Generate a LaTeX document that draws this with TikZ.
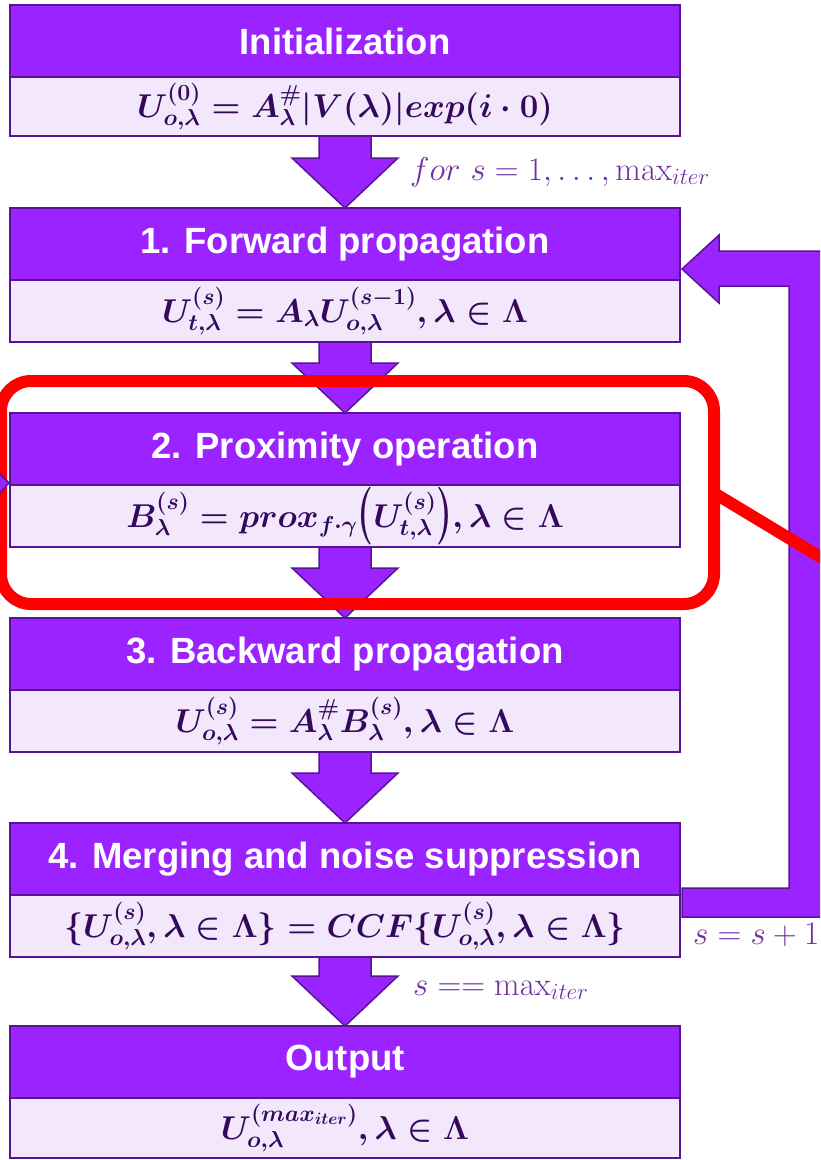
\RequirePackage{fix-cm}
\documentclass[tikz,border=0pt]{standalone}
\usepackage{amsmath,bm}
\usepackage[no-math]{fontspec}
\newfontfamily\hfont{Liberation Sans}
\usetikzlibrary{calc}
\definecolor{hpurp}{RGB}{155,35,255}
\definecolor{bandc}{RGB}{243,231,252}
\definecolor{bord}{RGB}{88,20,150}
\definecolor{fml}{RGB}{52,8,92}
\definecolor{lblc}{RGB}{112,48,160}
\newcommand\tallparen[1]{\mathopen{\raisebox{-3pt}{\scalebox{1.1}[1.75]{$#1$}}}}
\newcommand\tallcparen[1]{\mathclose{\raisebox{-3pt}{\scalebox{1.1}[1.75]{$#1$}}}}
\tikzset{
 hdr/.style={draw=bord, fill=hpurp, line width=1.5pt, minimum width=670pt, minimum height=72pt, inner sep=0pt, outer sep=0pt, text=white, font=\hfont\bfseries\fontsize{36.5}{40}\selectfont},
 band/.style={draw=bord, fill=bandc, line width=1.5pt, minimum width=670pt, minimum height=62pt, inner sep=0pt, outer sep=0pt, text=fml, font=\fontsize{33}{38}\selectfont\boldmath},
 downar/.style={draw=bord, fill=hpurp, line width=1.5pt, line join=miter},
 loopar/.style={draw=bord, fill=hpurp, line width=1.5pt, line join=miter},
 lbl/.style={text=lblc, font=\fontsize{33}{38}\selectfont, inner sep=0pt, anchor=base west},
 redhl/.style={draw=red, line width=12pt, rounded corners=30pt},
}
\newcommand\flowarrow[2]{%
 \draw[downar] let \p1=(#1.south), \p2=(#2.north) in
  (\x1-26pt,\y1) -- (\x1-26pt,\y2+50pt) -- (\x1-53pt,\y2+50pt) -- (\x2,\y2)
  -- (\x1+53pt,\y2+50pt) -- (\x1+26pt,\y2+50pt) -- (\x1+26pt,\y1) -- cycle;}
\begin{document}
\begin{tikzpicture}[x=1pt,y=-1pt]
\useasboundingbox (0,0) rectangle (820,1160);
\clip (0,0) rectangle (820,1160);
% boxes
\node[hdr] (h0) at (345,41) {Initialization};
\node[band, anchor=north, minimum height=59pt] (f0) at (h0.south) {$U^{(0)}_{o,\lambda}=A^{\#}_{\lambda}|V(\lambda)|exp(i\cdot 0)$};
\node[hdr] (h1) at (345,244) {1. Forward propagation};
\node[band, anchor=north] (f1) at (h1.south) {$U^{(s)}_{t,\lambda}=A_{\lambda}U^{(s-1)}_{o,\lambda},\lambda\in\Lambda$};
\node[hdr] (h2) at (345,449) {2. Proximity operation};
\node[band, anchor=north] (f2) at (h2.south) {$B^{(s)}_{\lambda}=prox_{f\cdot\gamma}\tallparen{(}U^{(s)}_{t,\lambda}\tallcparen{)},\lambda\in\Lambda$};
\node[hdr] (h3) at (345,654) {3. Backward propagation};
\node[band, anchor=north] (f3) at (h3.south) {$U^{(s)}_{o,\lambda}=A^{\#}_{\lambda}B^{(s)}_{\lambda},\lambda\in\Lambda$};
\node[hdr] (h4) at (345,859) {4. Merging and noise suppression};
\node[band, anchor=north] (f4) at (h4.south) {$\{U^{(s)}_{o,\lambda},\lambda\in\Lambda\}=CCF\{U^{(s)}_{o,\lambda},\lambda\in\Lambda\}$};
\node[hdr] (h5) at (345,1062) {Output};
\node[band, anchor=north, minimum height=60pt] (f5) at (h5.south) {$U^{(max_{iter})}_{o,\lambda},\lambda\in\Lambda$};
% down arrows
\flowarrow{f0}{h1}
\flowarrow{f1}{h2}
\flowarrow{f2}{h3}
\flowarrow{f3}{h4}
\flowarrow{f4}{h5}
% loop arrow
\draw[loopar] let \p1=(h4.south east), \p2=(h1.south east) in
  (\x1+2pt,\y1+7pt) -- (\x1+109pt,\y1+7pt) -- (\x1+109pt,\y2-6pt) -- (\x1+39pt,\y2-6pt)
  -- (\x1+39pt,\y2-23pt) -- (\x1+2pt,\y2+11pt) -- (\x1+39pt,\y2+45pt) -- (\x1+39pt,\y2+29pt)
  -- (\x1+146pt,\y2+29pt) -- (\x1+146pt,\y1-22pt) -- (\x1+2pt,\y1-22pt) -- cycle;
% labels
\node[lbl] (l1) at (410,180) {$for\ s=1,\ldots,\mathrm{max}_{iter}$};
\node[lbl] (l2) at (413,995) {$s==\mathrm{max}_{iter}$};
\node[lbl] (l3) at (693,944) {$s=s+1$};
% red highlight
\draw[redhl] ($(h2.north west)+(-9,-32)$) rectangle ($(f2.south east)+(34,57)$);
\coordinate (r1) at ($(f2.north east)+(34,8)$);
\coordinate (r2) at ($(f2.north east)+(190,102)$);
\draw[draw=red, line width=12pt] (r1) -- (r2);
% left partial arrowhead
\draw[loopar] let \p1=(h2.south west) in
  (\x1-14pt,\y1+15pt) -- (\x1-1pt,\y1+2pt) -- (\x1-14pt,\y1-12pt) -- cycle;
\end{tikzpicture}
\end{document}
